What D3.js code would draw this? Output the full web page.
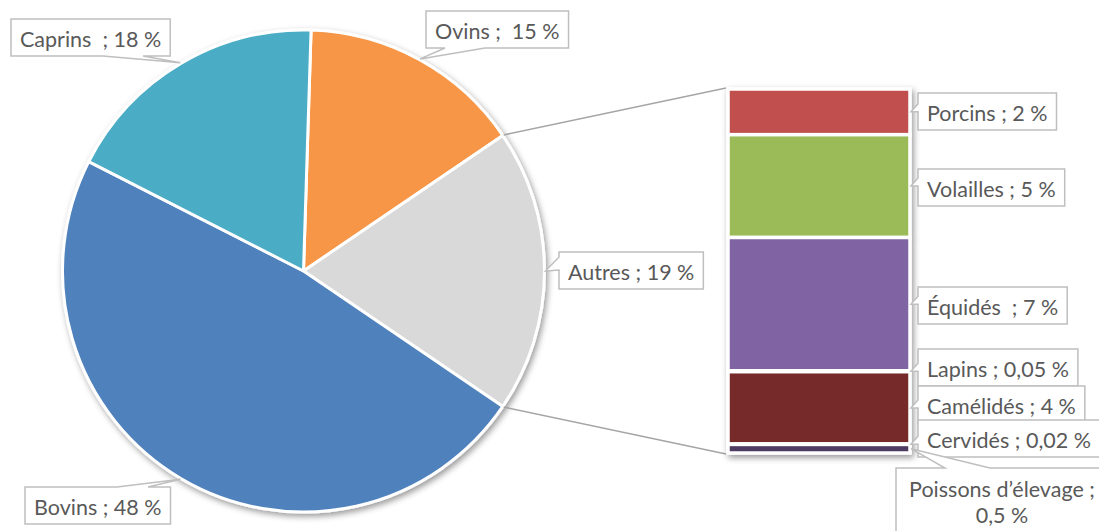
<!DOCTYPE html>
<html>
<head>
<meta charset="utf-8">
<script src="https://cdn.jsdelivr.net/npm/d3@7"></script>
<style>
  body { margin: 0; background: #fff; }
  text { font-family: Lato, "Open Sans", sans-serif; fill: #595959; white-space: pre; }
</style>
</head>
<body>
<script>
// pie part
const pieNames = ["Ovins", "Autres", "Bovins", "Caprins"]
const pieValues = [15, 19, 48, 18]
const pieLabels = ["Ovins ;  15 %", "Autres ; 19 %", "Bovins ; 48 %", "Caprins  ; 18 %"]
const pieColors = ["#f79646", "#d9d9d9", "#4f81bd", "#4bacc6"]

// bar part (detail of "Autres")
const barNames = ["Porcins", "Volailles", "Équidés", "Lapins", "Camélidés", "Cervidés", "Poissons d’élevage"]
const barValues = [2.4, 5.4, 7.0, 0.05, 3.8, 0.02, 0.45]
const barLabels = ["Porcins ; 2 %", "Volailles ; 5 %", "Équidés  ; 7 %", "Lapins ; 0,05 %", "Camélidés ; 4 %", "Cervidés ; 0,02 %", "Poissons d’élevage ;\n0,5 %"]
const barColors = ["#c0504d", "#9bbb59", "#8064a2", "#4bacc6", "#772c2a", "#5f7530", "#4d3b62"]

// label layout: [x, y, side of the pointer, base start, base end]
const pieLabelLayout = [
    [426, 11, "bottom", 445, 485],
    [559, 252, "left", 257, 270],
    [25, 487, "top", 117, 148],
    [11, 19, "bottom", 103, 143]
]
const barLabelY = [93, 169, 287, 349, 386, 420, 468]

const width = 1099, height = 531
const boxH = 37, pad = 9, fontSize = "21.5px"

const svg = d3.select("body")
              .append("svg")
              .attr("width", width)
              .attr("height", height)

const defs = svg.append("defs")
const shadow = defs.append("filter")
                   .attr("id", "shadow")
                   .attr("x", "-10%").attr("y", "-10%")
                   .attr("width", "125%").attr("height", "125%")
shadow.append("feDropShadow")
      .attr("dx", 2).attr("dy", 3)
      .attr("stdDeviation", 3)
      .attr("flood-color", "#000")
      .attr("flood-opacity", 0.4)

// pie
const cx = 303.5, cy = 271, r = 241
const total = d3.sum(pieValues)
const offset = Math.PI / 2 - (pieValues[0] + pieValues[1] / 2) / total * 2 * Math.PI
const pie = d3.pie().sort(null).value(d => d)
              .startAngle(offset).endAngle(offset + 2 * Math.PI)
const arcs = pie(pieValues)
const arc = d3.arc().innerRadius(0).outerRadius(r)

const pointAt = (a, rad) => [cx + rad * Math.sin(a), cy - rad * Math.cos(a)]

svg.append("g")
   .attr("transform", "translate(" + cx + "," + cy + ")")
   .attr("filter", "url(#shadow)")
   .selectAll("path")
   .data(arcs)
   .enter()
   .append("path")
   .attr("d", arc)
   .attr("fill", (d, i) => pieColors[i])
   .attr("stroke", "#fff")
   .attr("stroke-width", 3)
   .attr("stroke-linejoin", "round")

// bar
const barX0 = 728, barX1 = 910
const y = d3.scaleLinear().domain([0, d3.sum(barValues)]).range([89, 453])
const ends = d3.cumsum(barValues)
const starts = ends.map((e, i) => e - barValues[i])

// connector lines from the "Autres" slice to the bar
const autres = arcs[1]
const p0 = pointAt(autres.startAngle, r + 1)
const p1 = pointAt(autres.endAngle, r + 1)
svg.append("line")
   .attr("x1", p0[0]).attr("y1", p0[1])
   .attr("x2", barX0 - 2).attr("y2", y(0) - 1)
   .attr("stroke", "#a5a5a5").attr("stroke-width", 1.5)
svg.append("line")
   .attr("x1", p1[0]).attr("y1", p1[1])
   .attr("x2", barX0 - 2).attr("y2", y.range()[1] + 1)
   .attr("stroke", "#a5a5a5").attr("stroke-width", 1.5)

const barG = svg.append("g").attr("filter", "url(#shadow)")
barG.append("rect")
    .attr("x", barX0 - 1).attr("y", y(0) - 1)
    .attr("width", barX1 - barX0 + 2)
    .attr("height", y.range()[1] - y(0) + 2)
    .attr("fill", "#fff")
barG.selectAll("rect.seg")
    .data(barValues)
    .enter()
    .append("rect")
    .attr("class", "seg")
    .attr("x", barX0)
    .attr("y", (d, i) => y(starts[i]))
    .attr("width", barX1 - barX0)
    .attr("height", (d, i) => y(ends[i]) - y(starts[i]))
    .attr("fill", (d, i) => barColors[i])
    .attr("stroke", "#fff")
    .attr("stroke-width", 3.5)

// callout builder
const calloutPath = (x, yy, w, h, side, b0, b1, tip) => {
    const x2 = x + w, y2 = yy + h
    if (side == "left") {
        return "M" + x + "," + yy + "L" + x2 + "," + yy + "L" + x2 + "," + y2 + "L" + x + "," + y2
             + "L" + x + "," + b1 + "L" + tip[0] + "," + tip[1] + "L" + x + "," + b0 + "Z"
    } else if (side == "bottom") {
        return "M" + x + "," + yy + "L" + x2 + "," + yy + "L" + x2 + "," + y2
             + "L" + b1 + "," + y2 + "L" + tip[0] + "," + tip[1] + "L" + b0 + "," + y2
             + "L" + x + "," + y2 + "Z"
    } else {
        return "M" + x + "," + yy + "L" + b0 + "," + yy + "L" + tip[0] + "," + tip[1]
             + "L" + b1 + "," + yy + "L" + x2 + "," + yy + "L" + x2 + "," + y2
             + "L" + x + "," + y2 + "Z"
    }
}

const labelG = svg.append("g")

const drawLabel = (text, x, yy, side, b0, b1, tip, multi) => {
    const g = labelG.append("g")
    const path = g.append("path")
                  .attr("fill", "#fff")
                  .attr("stroke", "#bfbfbf")
                  .attr("stroke-width", 1.5)
    const lines = text.split("\n")
    let w, h
    if (!multi) {
        const t = g.append("text")
                   .attr("x", x + pad)
                   .attr("y", yy + boxH / 2 + 1)
                   .attr("dominant-baseline", "central")
                   .style("font-size", fontSize)
                   .text(text)
        w = t.node().getComputedTextLength() + 2 * pad
        h = boxH
    } else {
        w = 230
        h = 80
        lines.forEach((l, i) => {
            g.append("text")
             .attr("x", x + 106)
             .attr("y", yy + 21 + i * 26)
             .attr("dominant-baseline", "central")
             .attr("text-anchor", "middle")
             .style("font-size", fontSize)
             .text(l)
        })
    }
    path.attr("d", calloutPath(x, yy, w, h, side, b0, b1, tip))
}

arcs.forEach((a, i) => {
    const L = pieLabelLayout[i]
    const tip = pointAt((a.startAngle + a.endAngle) / 2, r + 1)
    drawLabel(pieLabels[i], L[0], L[1], L[2], L[3], L[4], tip, false)
})

barValues.forEach((v, i) => {
    const mid = y((starts[i] + ends[i]) / 2)
    const tip = [barX1 + 1, mid]
    const by = barLabelY[i]
    if (i == barValues.length - 1) {
        drawLabel(barLabels[i], 896, by, "top", 945, 990, tip, true)
    } else {
        const b1 = Math.max(by + 10, Math.min(mid, by + boxH - 3))
        drawLabel(barLabels[i], 918, by, "left", b1 - 8, b1, tip, false)
    }
})
</script>
</body>
</html>
